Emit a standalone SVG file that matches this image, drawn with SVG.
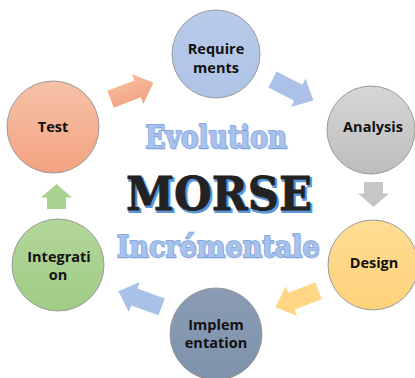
<svg xmlns="http://www.w3.org/2000/svg" width="415" height="378" viewBox="0 0 415 378">
  <defs>
    <linearGradient id="gTest" x1="0" y1="0" x2="0" y2="1">
      <stop offset="0" stop-color="#f6c2a9"/>
      <stop offset="1" stop-color="#f3a380"/>
    </linearGradient>
    <linearGradient id="gReq" x1="0" y1="0" x2="0" y2="1">
      <stop offset="0" stop-color="#b9cbea"/>
      <stop offset="1" stop-color="#aec3e6"/>
    </linearGradient>
    <linearGradient id="gAna" x1="0" y1="0" x2="0" y2="1">
      <stop offset="0" stop-color="#d6d6d6"/>
      <stop offset="1" stop-color="#bdbdbd"/>
    </linearGradient>
    <linearGradient id="gDes" x1="0" y1="0" x2="0" y2="1">
      <stop offset="0" stop-color="#ffdd94"/>
      <stop offset="1" stop-color="#fed27a"/>
    </linearGradient>
    <linearGradient id="gImp" x1="0" y1="0" x2="0" y2="1">
      <stop offset="0" stop-color="#8a9cb5"/>
      <stop offset="1" stop-color="#7f92ac"/>
    </linearGradient>
    <linearGradient id="gInt" x1="0" y1="0" x2="0" y2="1">
      <stop offset="0" stop-color="#b3d69b"/>
      <stop offset="1" stop-color="#a0cc85"/>
    </linearGradient>
    <linearGradient id="gArrTest" x1="0" y1="0" x2="0" y2="1">
      <stop offset="0" stop-color="#f6bc9f"/>
      <stop offset="1" stop-color="#f3a27e"/>
    </linearGradient>
    <!-- block arrow pointing right, centred on the origin -->
    <path id="bigArrow" d="M-23,-9 L6,-9 L6,-16 L23,0 L6,16 L6,9 L-23,9 Z"/>
    <path id="smallArrow" d="M-12.5,-9.5 L-1,-9.5 L-1,-15.5 L12.5,0 L-1,15.5 L-1,9.5 L-12.5,9.5 Z"/>
  </defs>
  <style>
    .node circle { stroke: #9a9a9a; stroke-width: 1; }
    .lbl { font-family: "Open Sans", "Noto Sans", "DejaVu Sans", sans-serif; font-weight: bold; font-size: 14.5px; fill: #111; text-anchor: middle; }
    .title { font-family: "DejaVu Serif", "Liberation Serif", serif; font-weight: bold; text-anchor: middle; }
    .sub { fill: #a9c2ec; stroke: #7197d8; stroke-width: 1.3; paint-order: stroke; }
    .subShadow { fill: #c9d8f2; stroke: #c9d8f2; stroke-width: 1; }
  </style>
  <rect width="415" height="378" fill="#ffffff"/>

  <!-- connectors: block arrows between phases -->
  <g id="connectors">
    <use href="#bigArrow" fill="url(#gArrTest)" transform="translate(132,91) rotate(-21)"/>
    <use href="#bigArrow" fill="#abc1e5" transform="translate(293,90) rotate(27)"/>
    <use href="#smallArrow" fill="#c6c6c6" transform="translate(373.5,194.5) rotate(90)"/>
    <use href="#bigArrow" fill="#fed684" transform="translate(297,299) rotate(159)"/>
    <use href="#bigArrow" fill="#a9c1e6" transform="translate(140,299) rotate(200)"/>
    <use href="#smallArrow" fill="#a9d190" transform="translate(56.5,196.5) rotate(-90)"/>
  </g>

  <g id="node-requirements" class="node">
    <circle cx="216" cy="54" r="44" fill="url(#gReq)"/>
    <text class="lbl" x="216" y="54">Require</text>
    <text class="lbl" x="216" y="73">ments</text>
  </g>
  <g id="node-analysis" class="node">
    <circle cx="371" cy="130" r="44" fill="url(#gAna)"/>
    <text class="lbl" x="373" y="132">Analysis</text>
  </g>
  <g id="node-design" class="node">
    <circle cx="373" cy="265" r="45" fill="url(#gDes)"/>
    <text class="lbl" x="374" y="268">Design</text>
  </g>
  <g id="node-implementation" class="node">
    <circle cx="216" cy="334" r="46" fill="url(#gImp)"/>
    <text class="lbl" x="216" y="330">Implem</text>
    <text class="lbl" x="216" y="348">entation</text>
  </g>
  <g id="node-integration" class="node">
    <circle cx="58" cy="265" r="46" fill="url(#gInt)"/>
    <text class="lbl" x="59" y="262">Integrati</text>
    <text class="lbl" x="58" y="280">on</text>
  </g>
  <g id="node-test" class="node">
    <circle cx="53" cy="127" r="46" fill="url(#gTest)"/>
    <text class="lbl" x="53" y="132">Test</text>
  </g>

  <!-- central titles -->
  <g id="titles">
    <text class="title subShadow" x="217" y="149" font-size="31" textLength="142" lengthAdjust="spacingAndGlyphs">Evolution</text>
    <text class="title sub" x="216" y="148" font-size="31" textLength="142" lengthAdjust="spacingAndGlyphs">Evolution</text>

    <text class="title" x="220.5" y="211.5" font-size="46" fill="#5b95d8" stroke="#5b95d8" stroke-width="2" textLength="186" lengthAdjust="spacingAndGlyphs">MORSE</text>
    <text class="title" x="219" y="210" font-size="46" fill="#222222" stroke="#222222" stroke-width="0.8" textLength="186" lengthAdjust="spacingAndGlyphs">MORSE</text>

    <text class="title subShadow" x="219" y="258" font-size="30" textLength="203" lengthAdjust="spacingAndGlyphs">Incrémentale</text>
    <text class="title sub" x="218" y="257" font-size="30" textLength="203" lengthAdjust="spacingAndGlyphs">Incrémentale</text>
  </g>
</svg>
